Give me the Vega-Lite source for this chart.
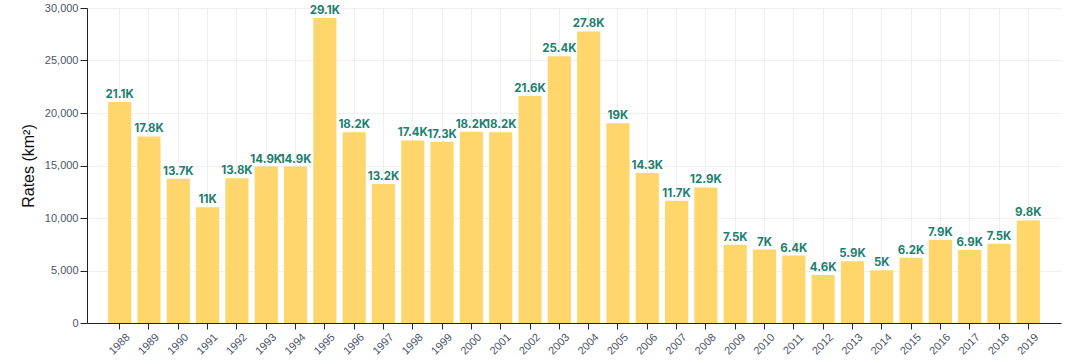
{
  "$schema": "https://vega.github.io/schema/vega-lite/v6.json",
  "width": 974,
  "height": 315,
  "autosize": {"type": "none"},
  "padding": {"left": 87, "top": 8, "right": 19, "bottom": 41},
  "background": "white",
  "config": {"view": {"stroke": null}, "font": "Liberation Sans"},
  "data": {"values": [
    {"year": "1988", "rate": 21050},
    {"year": "1989", "rate": 17770},
    {"year": "1990", "rate": 13730},
    {"year": "1991", "rate": 11030},
    {"year": "1992", "rate": 13786},
    {"year": "1993", "rate": 14896},
    {"year": "1994", "rate": 14896},
    {"year": "1995", "rate": 29059},
    {"year": "1996", "rate": 18161},
    {"year": "1997", "rate": 13227},
    {"year": "1998", "rate": 17383},
    {"year": "1999", "rate": 17259},
    {"year": "2000", "rate": 18226},
    {"year": "2001", "rate": 18165},
    {"year": "2002", "rate": 21630},
    {"year": "2003", "rate": 25396},
    {"year": "2004", "rate": 27772},
    {"year": "2005", "rate": 19014},
    {"year": "2006", "rate": 14286},
    {"year": "2007", "rate": 11651},
    {"year": "2008", "rate": 12911},
    {"year": "2009", "rate": 7464},
    {"year": "2010", "rate": 7000},
    {"year": "2011", "rate": 6418},
    {"year": "2012", "rate": 4571},
    {"year": "2013", "rate": 5891},
    {"year": "2014", "rate": 5012},
    {"year": "2015", "rate": 6207},
    {"year": "2016", "rate": 7893},
    {"year": "2017", "rate": 6947},
    {"year": "2018", "rate": 7536},
    {"year": "2019", "rate": 9762}
  ]},
  "transform": [
    {"calculate": "format(datum.rate / 1000, '.1~f') + 'K'", "as": "label"}
  ],
  "encoding": {
    "x": {
      "field": "year", "type": "ordinal",
      "scale": {"paddingInner": 0.21, "paddingOuter": 0.72},
      "axis": {
        "title": null,
        "labelAngle": -45,
        "labelAlign": "center",
        "labelBaseline": "middle",
        "labelFontSize": 11,
        "labelColor": "#4a5568",
        "labelPadding": 15,
        "domainColor": "#222",
        "tickColor": "#222",
        "tickSize": 6,
        "grid": true,
        "gridColor": "#efefef",
        "gridWidth": 1
      }
    },
    "y": {
      "field": "rate", "type": "quantitative",
      "scale": {"domain": [0, 30000], "nice": false},
      "axis": {
        "title": "Rates (km²)",
        "titleFontSize": 16,
        "titleFontWeight": "normal",
        "titleColor": "#111",
        "titlePadding": 8,
        "values": [0, 5000, 10000, 15000, 20000, 25000, 30000],
        "format": ",d",
        "labelFontSize": 11,
        "labelColor": "#4a5568",
        "labelPadding": 2,
        "domainColor": "#222",
        "tickColor": "#222",
        "tickSize": 7,
        "gridColor": "#efefef"
      }
    }
  },
  "layer": [
    {"mark": {"type": "bar", "color": "#FFD66C"}},
    {
      "mark": {"type": "text", "dy": -4, "font": "Inter", "fontWeight": "bold", "fontSize": 11.5, "color": "#1d7f70", "baseline": "alphabetic"},
      "encoding": {"text": {"field": "label"}}
    }
  ]
}
